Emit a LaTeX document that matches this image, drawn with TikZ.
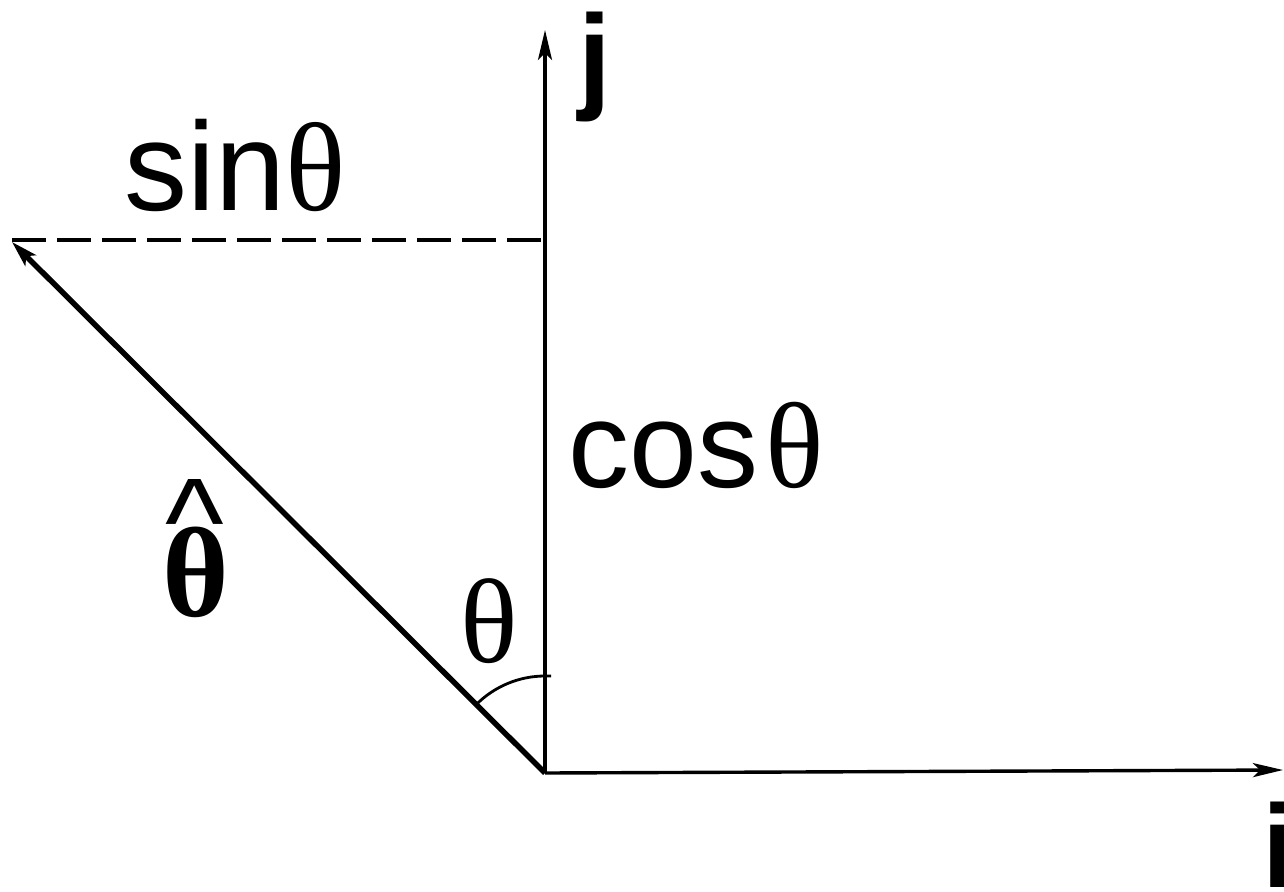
\documentclass[tikz,border=0pt]{standalone}
\usepackage{fontspec}
\setmainfont{Liberation Sans}
\newfontfamily\serifgr{Liberation Serif}
\usetikzlibrary{arrows.meta}
\begin{document}
\begin{tikzpicture}[x=1pt,y=-1pt,
  axis/.style={line width=3.4pt,-{Stealth[length=30pt,width=14pt,inset=7pt]}},
  vec/.style={line width=5.5pt,-{Stealth[length=26pt,width=15pt,inset=6pt]}},
  dashline/.style={line width=3.2pt,dash pattern=on 34pt off 11pt},
  lbl/.style={inner sep=0pt,anchor=base west}]
\clip (0,0) rectangle (1284,891);
\fill[white] (0,0) rectangle (1284,891);
\useasboundingbox (0,0) rectangle (1284,891);
% points
\coordinate (O) at (545,773);
\coordinate (jtip) at (545,30);
\coordinate (itip) at (1283,770);
\coordinate (thtip) at (12,242);
\coordinate (dl) at (12,240);
\coordinate (dr) at (545,240);
% lines
\draw[dashline] (dl) -- (dr);
\draw[axis] (O) -- (jtip);
\draw[axis] (O) -- (itip);
\draw[vec] (O) -- (thtip);
\draw[line width=2.8pt] ([shift={(225:97)}]O) arc[start angle=225,end angle=270,radius=97] -- ++(6,0);
% labels
\node[lbl] (j) at (578,97) {\fontsize{118}{118}\selectfont\bfseries j};
\node[lbl] (i) at (1262,887) {\fontsize{118}{118}\selectfont\bfseries i};
\node[lbl] (sin) at (124,210) {\fontsize{126}{126}\selectfont sin{\serifgr θ}};
\node[lbl] (cos) at (568,487) {\fontsize{122}{122}\selectfont cos\hspace{7pt}{\serifgr θ}};
\node[lbl] (th) at (460,662) {\fontsize{120}{120}\selectfont\serifgr θ};
\node[lbl] (hat) at (165,565) {\fontsize{125}{125}\selectfont\textasciicircum};
\node[lbl] (thhat) at (162,616) {\fontsize{128}{128}\selectfont\serifgr\bfseries θ};
\end{tikzpicture}
\end{document}
